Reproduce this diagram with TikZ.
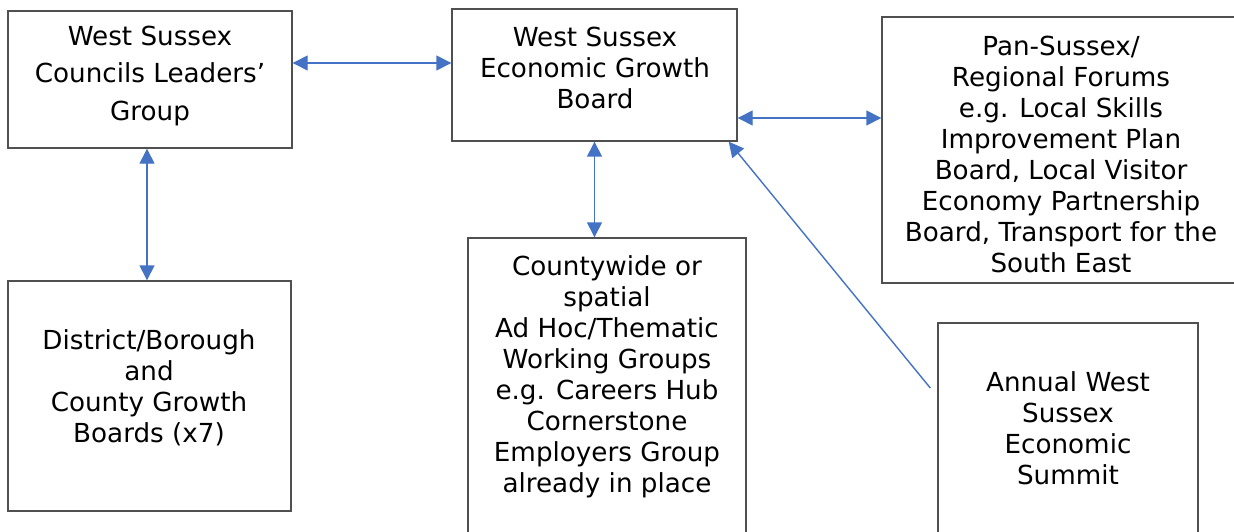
\documentclass[tikz,border=0pt]{standalone}
\usepackage{fontspec}
\setmainfont{DejaVu Sans}
\usetikzlibrary{arrows.meta}
\definecolor{arr}{HTML}{4472C4}
\definecolor{bx}{HTML}{505050}
\begin{document}
\begin{tikzpicture}[x=1pt,y=-1pt,
 box/.style={draw=bx,line width=1.4pt,rectangle,inner sep=0pt},
 txt/.style={align=center,font=\fontsize{26.2}{31}\selectfont,inner sep=0pt},
 conn/.style={draw=arr,line width=1.4pt,{Triangle[length=15pt,width=15pt]}-{Triangle[length=15pt,width=15pt]}},
 oneway/.style={draw=arr,line width=1.4pt,-{Triangle[length=15pt,width=15pt]}},
]
\useasboundingbox (0,0) rectangle (1234,532);
\clip (0,0) rectangle (1234,532);
\fill[white] (0,0) rectangle (1234,532);
% boxes
\node[box,minimum width=284pt,minimum height=137pt] (lead) at (150,79.5) {};
\node[box,minimum width=285pt,minimum height=132pt] (egb) at (594.5,75) {};
\node[box,minimum width=358pt,minimum height=266pt] (pan) at (1061,150) {};
\node[box,minimum width=283pt,minimum height=230pt] (dist) at (149.5,396) {};
\node[box,minimum width=278pt,minimum height=322pt] (cw) at (607,399) {};
\node[box,minimum width=260pt,minimum height=237pt] (ann) at (1068,441.5) {};
% texts
\node[txt,font=\fontsize{26.2}{37.5}\selectfont] (leadt) at (150,76) {West Sussex\\Councils Leaders’\\Group};
\node[txt] (egbt) at (595,68) {West Sussex\\Economic Growth\\Board};
\node[txt] (pant) at (1061,154) {Pan-Sussex/\\Regional Forums\\e.g. Local Skills\\Improvement Plan\\Board, Local Visitor\\Economy Partnership\\Board, Transport for the\\South East};
\node[txt] (distt) at (149,388) {District/Borough\\and\\County Growth\\Boards (x7)};
\node[txt] (cwt) at (607,377) {Countywide or\\spatial\\Ad Hoc/Thematic\\Working Groups\\e.g. Careers Hub\\Cornerstone\\Employers Group\\already in place};
\node[txt] (annt) at (1068,428) {Annual West\\Sussex\\Economic\\Summit};
% connectors
\draw[conn] ([yshift=16.5pt]lead.east) -- ([yshift=16.5pt]lead.east -| egb.west);
\draw[conn] ([xshift=-3pt]lead.south) -- ([xshift=-3pt]lead.south |- dist.north);
\draw[conn] (egb.south) -- (egb.south |- cw.north);
\draw[conn] ([yshift=-43pt]egb.east) -- ([yshift=-43pt]egb.east -| pan.west);
\draw[oneway] ([xshift=-7pt,yshift=53.5pt]ann.west) -- ([xshift=-9pt]egb.south east);
\end{tikzpicture}
\end{document}
